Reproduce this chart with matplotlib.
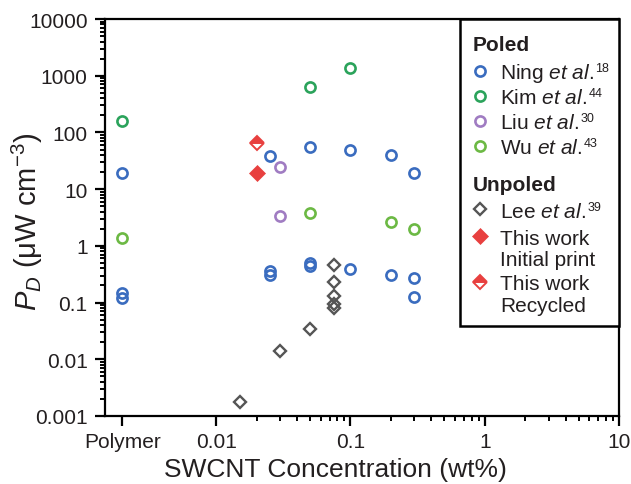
import matplotlib
matplotlib.use('Agg')
import matplotlib.pyplot as plt
from matplotlib.patches import Rectangle
from matplotlib.ticker import FixedLocator, FixedFormatter, NullFormatter, LogLocator

plt.rcParams['font.family'] = ['Liberation Sans', 'DejaVu Sans']
plt.rcParams['mathtext.fontset'] = 'custom'
plt.rcParams['mathtext.rm'] = 'Liberation Sans'
plt.rcParams['mathtext.it'] = 'Liberation Sans:italic'
plt.rcParams['mathtext.bf'] = 'Liberation Sans:bold'

TXT = '#231f20'

# ---------------- data ----------------
POLYMER = 0.002  # position used for the "Polymer" column
ning_x = [POLYMER, POLYMER, POLYMER, 0.025, 0.025, 0.025, 0.05, 0.05, 0.05, 0.1, 0.1, 0.2, 0.2, 0.3, 0.3, 0.3]
ning_y = [19, 0.15, 0.12, 38, 0.36, 0.31, 56, 0.49, 0.445, 49, 0.39, 40, 0.31, 19, 0.27, 0.126]
kim_x = [POLYMER, 0.05, 0.1]
kim_y = [161, 640, 1370]
liu_x = [0.03, 0.03]
liu_y = [24.8, 3.4]
wu_x = [POLYMER, 0.05, 0.2, 0.3]
wu_y = [1.36, 3.8, 2.6, 1.95]
lee_x = [0.015, 0.03, 0.05, 0.075, 0.075, 0.075, 0.075, 0.075]
lee_y = [0.0018, 0.014, 0.034, 0.46, 0.227, 0.132, 0.094, 0.08]
initial_x = [0.02]
initial_y = [19]
recycled_x = [0.02]
recycled_y = [65]

x_ticks = [POLYMER, 0.01, 0.1, 1, 10]
x_ticklabels = ['Polymer', '0.01', '0.1', '1', '10']
y_ticks = [0.001, 0.01, 0.1, 1, 10, 100, 1000, 10000]
y_ticklabels = ['0.001', '0.01', '0.1', '1', '10', '100', '1000', '10000']

C_NING = '#3a6cbf'
C_KIM = '#2ba35b'
C_LIU = '#a07cc2'
C_WU = '#6cb944'
C_LEE = '#555555'
C_RED = '#e8403f'

# ---------------- figure ----------------
fig = plt.figure(figsize=(6.31, 4.85), dpi=100)
L, R, T, B = 105, 619, 20, 417
W, H = 631, 485
ax = fig.add_axes([L / W, 1 - B / H, (R - L) / W, (B - T) / H])
ax.set_xscale('log')
ax.set_yscale('log')
ax.set_xlim(0.001488, 10)
ax.set_ylim(0.001, 10000)

circ = dict(linestyle='none', marker='o', markersize=7.3, markerfacecolor='none', markeredgewidth=1.9, clip_on=False)
ax.plot(ning_x, ning_y, markeredgecolor=C_NING, **circ)
ax.plot(kim_x, kim_y, markeredgecolor=C_KIM, **circ)
ax.plot(liu_x, liu_y, markeredgecolor=C_LIU, **circ)
ax.plot(wu_x, wu_y, markeredgecolor=C_WU, **circ)
ax.plot(lee_x, lee_y, linestyle='none', marker='D', markersize=6.3, markerfacecolor='none',
        markeredgecolor=C_LEE, markeredgewidth=1.7)
ax.plot(initial_x, initial_y, linestyle='none', marker='D', markersize=7.8, markerfacecolor=C_RED,
        markeredgecolor=C_RED, markeredgewidth=0.5)
ax.plot(recycled_x, recycled_y, linestyle='none', marker='D', markersize=7.2, fillstyle='top',
        markerfacecolor=C_RED, markerfacecoloralt='white', markeredgecolor=C_RED, markeredgewidth=1.4)

# ---------------- axes styling ----------------
for s in ax.spines.values():
    s.set_linewidth(1.6)
    s.set_color('black')

ax.xaxis.set_major_locator(FixedLocator(x_ticks))
ax.xaxis.set_major_formatter(FixedFormatter(x_ticklabels))
minor_x = [k * 10.0 ** e for e in (-2, -1, 0) for k in range(2, 10)]
ax.xaxis.set_minor_locator(FixedLocator(minor_x))
ax.xaxis.set_minor_formatter(NullFormatter())

ax.yaxis.set_major_locator(FixedLocator(y_ticks))
ax.yaxis.set_major_formatter(FixedFormatter(y_ticklabels))
ax.yaxis.set_minor_locator(LogLocator(base=10, subs=range(2, 10), numticks=20))
ax.yaxis.set_minor_formatter(NullFormatter())

ax.tick_params(which='major', direction='out', length=7.5, width=1.6, labelsize=15,
               colors='black', labelcolor=TXT)
ax.tick_params(which='minor', direction='out', length=3.5, width=1.4, colors='black')
ax.tick_params(axis='y', which='major', pad=5)
ax.tick_params(axis='x', which='major', pad=4)

ax.set_xlabel('SWCNT Concentration (wt%)', fontsize=19, color=TXT)
ax.xaxis.set_label_coords((335 - L) / (R - L), (B - 458) / (B - T))
ax.set_ylabel(r'$P_D$ (μW cm$^{-3}$)', fontsize=21, color=TXT)
ax.yaxis.set_label_coords((45 - L) / (R - L), (B - 222) / (B - T))

# ---------------- legend (drawn manually) ----------------
def ax_xy(px, py):
    return (px - L) / (R - L), (B - py) / (B - T)

x0, y0 = ax_xy(460, 327)
x1, y1 = ax_xy(619, 20)
ax.add_patch(Rectangle((x0, y0), x1 - x0, y1 - y0, transform=ax.transAxes, facecolor='white',
                       edgecolor='black', linewidth=1.8, zorder=5, clip_on=False))

mx = 480
tx = 500
FS = 15
renderer = fig.canvas.get_renderer()

def leg_text(px, py, s, sup=None, **kw):
    # py = vertical centre of capitals (image px); baseline ~7.5 px lower
    xa, ya = ax_xy(px, py + 7.5)
    t = ax.text(xa, ya, s, transform=ax.transAxes, fontsize=FS, color=TXT, ha='left', va='baseline',
                zorder=6, **kw)
    if sup is not None:
        bb = t.get_window_extent(renderer)
        xs = bb.x1 + 1.5
        _, ys = ax.transAxes.transform(ax_xy(px, py + 0.5))
        xsa, ysa = ax.transAxes.inverted().transform((xs, ys))
        ax.text(xsa, ysa, sup, transform=ax.transAxes, fontsize=9, color=TXT, ha='left',
                va='baseline', zorder=6)

def leg_marker(py, **kw):
    xa, ya = ax_xy(mx, py)
    ax.plot([xa], [ya], transform=ax.transAxes, linestyle='none', zorder=6, clip_on=False, **kw)

leg_text(473, 43, 'Poled', fontweight='bold')
rows = [(71.5, C_NING, 'Ning', '18'),
        (96.5, C_KIM, 'Kim', '44'),
        (121.5, C_LIU, 'Liu', '30'),
        (146.5, C_WU, 'Wu', '43')]
for py, c, name, ref in rows:
    leg_marker(py, marker='o', markersize=7.3, markerfacecolor='none', markeredgewidth=1.9, markeredgecolor=c)
    leg_text(tx, py, name + r' $\mathit{et\ al.}$', sup=ref)

leg_text(473, 183, 'Unpoled', fontweight='bold')
leg_marker(210, marker='D', markersize=6.3, markerfacecolor='none', markeredgecolor=C_LEE, markeredgewidth=1.7)
leg_text(tx, 210, r'Lee $\mathit{et\ al.}$', sup='39')

leg_marker(237, marker='D', markersize=7.8, markerfacecolor=C_RED, markeredgecolor=C_RED, markeredgewidth=0.5)
leg_text(tx, 237, 'This work')
leg_text(tx, 258, 'Initial print')

leg_marker(283, marker='D', markersize=7.2, fillstyle='top', markerfacecolor=C_RED,
           markerfacecoloralt='white', markeredgecolor=C_RED, markeredgewidth=1.4)
leg_text(tx, 283, 'This work')
leg_text(tx, 305, 'Recycled')

fig.savefig('out.png', dpi=100)
